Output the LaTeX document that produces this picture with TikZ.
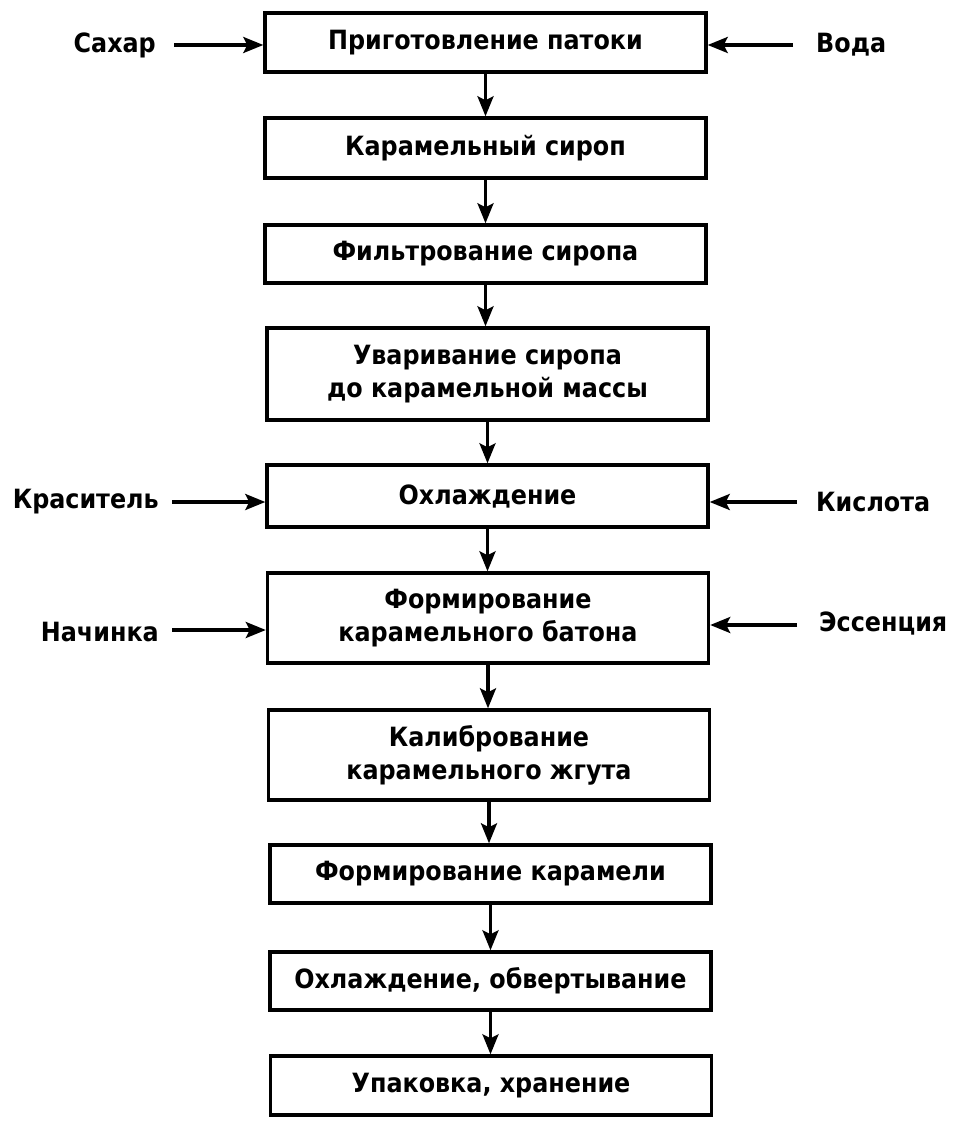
\documentclass[tikz,border=0pt]{standalone}
\usepackage{fontspec}
\setmainfont{DejaVu Sans Condensed}
\usetikzlibrary{arrows.meta,calc}
\begin{document}
\begin{tikzpicture}[x=1pt,y=-1pt,
  stepbox/.style={draw,line width=3.4pt,minimum width=441pt,inner sep=0pt,align=center,
    font=\fontsize{26.5}{33}\selectfont\bfseries},
  lbl/.style={inner sep=0pt,font=\fontsize{26.5}{30}\selectfont\bfseries},
  arr/.style={line width=3.2pt,-{Stealth[length=20pt,width=16pt,inset=4pt]}}]
\useasboundingbox (0,0) rectangle (978,1131);
\node[stepbox,minimum height=59pt] (b1) at (485.5,42.5) {Приготовление патоки};
\node[stepbox,minimum height=60pt] (b2) at (485.5,148) {Карамельный сироп};
\node[stepbox,minimum height=58pt] (b3) at (485.5,254) {Фильтрование сиропа};
\node[stepbox,minimum height=92pt] (b4) at (487.5,374) {Уваривание сиропа\\до карамельной массы};
\node[stepbox,minimum height=62pt] (b5) at (487.5,496) {Охлаждение};
\node[stepbox,minimum height=90pt] (b6) at (488,618) {Формирование\\карамельного батона};
\node[stepbox,minimum height=90pt] (b7) at (489,755) {Калибрование\\карамельного жгута};
\node[stepbox,minimum height=58pt] (b8) at (490.5,874) {Формирование карамели};
\node[stepbox,minimum height=58pt] (b9) at (490.5,981) {Охлаждение, обвертывание};
\node[stepbox,minimum height=59pt] (b10) at (491,1085.5) {Упаковка, хранение};
\foreach \a/\b in {b1/b2,b2/b3,b3/b4,b4/b5,b5/b6,b6/b7,b7/b8,b8/b9,b9/b10}
  \draw[arr] (\a.south) -- (\a.south |- \b.north);
% side inputs
\node[lbl,anchor=east] (sug) at (156,45) {Сахар};
\node[lbl,anchor=west] (wat) at (816,45) {Вода};
\node[lbl,anchor=east] (dye) at (159,502) {Краситель};
\node[lbl,anchor=west] (acid) at (816,502) {Кислота};
\node[lbl,anchor=east] (fill) at (159,632) {Начинка};
\node[lbl,anchor=west] (ess) at (819,623) {Эссенция};
\coordinate (csug) at (174,45);
\coordinate (cwat) at (793,45);
\coordinate (cdye) at (172,502);
\coordinate (cacid) at (797,502);
\coordinate (cfill) at (172,630);
\coordinate (cess) at (797,625);
\draw[arr] (csug) -- (csug -| b1.west);
\draw[arr] (cwat) -- (cwat -| b1.east);
\draw[arr] (cdye) -- (cdye -| b5.west);
\draw[arr] (cacid) -- (cacid -| b5.east);
\draw[arr] (cfill) -- (cfill -| b6.west);
\draw[arr] (cess) -- (cess -| b6.east);
\end{tikzpicture}
\end{document}
